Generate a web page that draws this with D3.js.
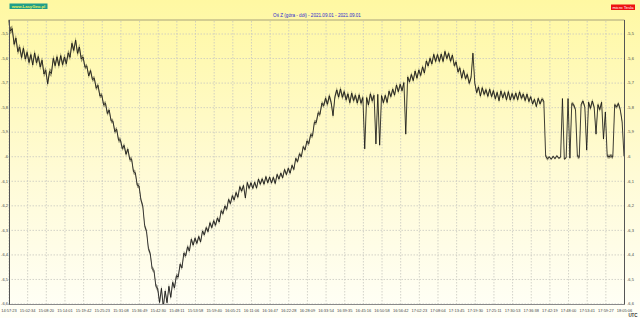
<!DOCTYPE html>
<html><head><meta charset="utf-8">
<script src="https://cdn.jsdelivr.net/npm/d3@7"></script>
<style>html,body{margin:0;padding:0;background:#fff;}svg{display:block;}</style>
</head><body>
<svg id="chart" width="640" height="318"></svg>
<script>
const titleText = "Oś Z (góra - dół) - 2021.09.01 - 2021.09.01";
const siteLabel = "www.LasyGeo.pl";
const unitLabel = "micro Tesla";
const tzLabel = "UTC";
const timeLabels = ["14:57:23","15:02:34","15:08:20","15:14:01","15:19:42","15:25:23","15:31:08","15:36:49","15:42:30","15:48:11","15:53:58","15:59:40","16:05:21","16:11:06","16:16:47","16:22:28","16:28:09","16:33:54","16:39:35","16:45:16","16:50:58","16:56:42","17:02:23","17:08:04","17:13:45","17:19:30","17:25:11","17:30:53","17:36:38","17:42:19","17:48:00","17:53:41","17:59:27","18:05:06"];
const yTicks = [-5.5,-5.6,-5.7,-5.8,-5.9,-6,-6.1,-6.2,-6.3,-6.4,-6.5,-6.6];
// samples: 10 per time-label interval
const values = [
-5.445,-5.49,-5.48,-5.544,-5.519,-5.574,-5.556,-5.598,-5.56,-5.604,
-5.577,-5.618,-5.586,-5.628,-5.579,-5.619,-5.594,-5.636,-5.609,-5.665,
-5.65,-5.705,-5.655,-5.663,-5.601,-5.631,-5.595,-5.631,-5.59,-5.627,
-5.596,-5.623,-5.579,-5.597,-5.54,-5.569,-5.527,-5.581,-5.555,-5.604,
-5.596,-5.638,-5.632,-5.673,-5.651,-5.688,-5.682,-5.723,-5.711,-5.755,
-5.75,-5.791,-5.784,-5.826,-5.812,-5.856,-5.857,-5.9,-5.89,-5.935,
-5.933,-5.969,-5.956,-5.992,-5.971,-6.013,-6.011,-6.063,-6.067,-6.118,
-6.121,-6.178,-6.203,-6.283,-6.306,-6.376,-6.397,-6.458,-6.466,-6.529,
-6.54,-6.596,-6.538,-6.614,-6.549,-6.597,-6.53,-6.575,-6.514,-6.536,
-6.487,-6.492,-6.44,-6.455,-6.395,-6.406,-6.369,-6.386,-6.338,-6.362,
-6.334,-6.355,-6.327,-6.349,-6.305,-6.32,-6.291,-6.307,-6.271,-6.291,
-6.263,-6.281,-6.252,-6.268,-6.222,-6.234,-6.203,-6.216,-6.176,-6.193,
-6.161,-6.178,-6.148,-6.167,-6.124,-6.142,-6.119,-6.17,-6.107,-6.131,
-6.108,-6.131,-6.106,-6.13,-6.093,-6.114,-6.092,-6.114,-6.083,-6.108,
-6.085,-6.109,-6.086,-6.111,-6.074,-6.093,-6.069,-6.088,-6.054,-6.075,
-6.049,-6.069,-6.037,-6.054,-6.009,-6.022,-5.99,-6.002,-5.961,-5.974,
-5.938,-5.949,-5.912,-5.918,-5.861,-5.863,-5.823,-5.83,-5.784,-5.794,
-5.764,-5.788,-5.754,-5.781,-5.835,-5.758,-5.73,-5.759,-5.726,-5.76,
-5.737,-5.77,-5.746,-5.782,-5.743,-5.773,-5.752,-5.783,-5.75,-5.784,
-5.761,-5.97,-5.761,-5.791,-5.746,-5.774,-5.752,-5.95,-5.748,-5.955,
-5.753,-5.782,-5.752,-5.781,-5.735,-5.757,-5.727,-5.751,-5.71,-5.737,
-5.707,-5.733,-5.7,-5.91,-5.677,-5.697,-5.667,-5.692,-5.653,-5.682,
-5.649,-5.671,-5.636,-5.661,-5.612,-5.632,-5.601,-5.624,-5.585,-5.614,
-5.586,-5.614,-5.584,-5.614,-5.573,-5.602,-5.581,-5.613,-5.588,-5.631,
-5.616,-5.657,-5.64,-5.682,-5.65,-5.684,-5.667,-5.703,-5.68,-5.58,
-5.702,-5.741,-5.718,-5.755,-5.721,-5.748,-5.729,-5.756,-5.727,-5.757,
-5.733,-5.766,-5.74,-5.774,-5.734,-5.762,-5.74,-5.77,-5.737,-5.771,
-5.745,-5.768,-5.743,-5.77,-5.738,-5.764,-5.747,-5.773,-5.747,-5.777,
-5.758,-5.787,-5.768,-5.798,-5.764,-5.787,-5.767,-5.775,-6.0,-6.01,
-6.003,-6.012,-6.0,-6.01,-5.998,-6.008,-6.004,-5.765,-6.012,-6.006,
-5.765,-6.008,-5.785,-5.79,-5.81,-6.0,-6.005,-5.79,-5.775,-5.8,
-5.975,-5.78,-5.805,-5.775,-5.8,-5.91,-5.79,-5.81,-5.78,-5.93,
-5.82,-6.0,-6.002,-5.998,-6.004,-5.79,-5.8,-5.785,-5.81,-5.86,
-6.0
];
// visible noise half-width of the trace, per time-label interval
const noiseBand = [0.014,0.014,0.014,0.014,0.01,0.01,0.01,0.01,0.012,0.01,0.009,0.009,0.009,0.008,0.008,0.008,0.01,0.012,0.012,0.012,0.01,0.01,0.01,0.01,0.01,0.01,0.01,0.01,0.008,0.004,0.008,0.01,0.008,0.004];

const W = 640, H = 318;
const svg = d3.select("#chart");
const defs = svg.append("defs");
const grad = defs.append("linearGradient").attr("id","bg").attr("x1",0).attr("y1",0).attr("x2",0).attr("y2",1);
grad.append("stop").attr("offset","0%").attr("stop-color","#fff8a2");
grad.append("stop").attr("offset","55%").attr("stop-color","#fffbd6");
grad.append("stop").attr("offset","100%").attr("stop-color","#fffff8");
svg.append("rect").attr("width",W).attr("height",H).attr("fill","url(#bg)");

const plot = {l:8.5, r:624.5, t:20, b:304.5};
const x = d3.scaleLinear().domain([0, (timeLabels.length-1)*10]).range([plot.l, 624]);
const y = d3.scaleLinear().domain([-5.5,-6.6]).range([33.5,303.5]);

defs.append("clipPath").attr("id","clip").append("rect")
  .attr("x",plot.l).attr("y",plot.t).attr("width",plot.r-plot.l).attr("height",plot.b-plot.t);

const fmt = d => String(d).replace(".", ",");
const font = "Liberation Sans, Arial, sans-serif";

const gy = svg.append("g").attr("transform",`translate(${plot.l},0)`)
  .call(d3.axisRight(y).tickValues(yTicks).tickSize(plot.r-plot.l).tickFormat(""));
gy.select(".domain").remove();
gy.selectAll("line").attr("stroke","#c8c8c0").attr("stroke-width",0.8).attr("stroke-dasharray","1.5,1.5");

const gx = svg.append("g").attr("transform",`translate(0,${plot.b})`)
  .call(d3.axisTop(x).tickValues(timeLabels.map((d,i)=>i*10)).tickSize(plot.b-plot.t).tickFormat(""));
gx.select(".domain").remove();
gx.selectAll("line").attr("stroke","#c8c8c0").attr("stroke-width",0.8).attr("stroke-dasharray","1.5,1.5");

const bandOf = i => noiseBand[Math.min(noiseBand.length-1, Math.floor(i/10))];
const area = d3.area().x((d,i)=>x(i)).y0((d,i)=>y(d - bandOf(i))).y1((d,i)=>y(d + bandOf(i)));
const gData = svg.append("g").attr("clip-path","url(#clip)");
gData.append("path").datum(values).attr("d",area).attr("fill","#2a2a20").attr("fill-opacity",0.45);
const line = d3.line().x((d,i)=>x(i)).y(d=>y(d));
gData.append("path").datum(values)
  .attr("d",line).attr("fill","none").attr("stroke","#111").attr("stroke-width",0.8);

svg.append("line").attr("x1",plot.l).attr("x2",plot.r).attr("y1",plot.t).attr("y2",plot.t).attr("stroke","#a8a27a").attr("stroke-width",1);
svg.append("line").attr("x1",plot.l).attr("x2",plot.r).attr("y1",plot.b).attr("y2",plot.b).attr("stroke","#8a8a8a").attr("stroke-width",1);
svg.append("line").attr("x1",9.5).attr("x2",9.5).attr("y1",plot.t).attr("y2",plot.b).attr("stroke","#555").attr("stroke-width",1);
svg.append("line").attr("x1",624.5).attr("x2",624.5).attr("y1",plot.t).attr("y2",plot.b).attr("stroke","#555").attr("stroke-width",1);

const yl = svg.append("g").attr("transform","translate(8,0)")
  .call(d3.axisLeft(y).tickValues(yTicks).tickSize(0).tickPadding(0).tickFormat(fmt));
yl.select(".domain").remove();
yl.selectAll("text").attr("font-family",font).attr("font-size",4).attr("fill","#444");
const yr = svg.append("g").attr("transform","translate(627,0)")
  .call(d3.axisRight(y).tickValues(yTicks).tickSize(0).tickPadding(0).tickFormat(fmt));
yr.select(".domain").remove();
yr.selectAll("text").attr("font-family",font).attr("font-size",4).attr("fill","#444");

const xl = svg.append("g").attr("transform","translate(0,309)")
  .call(d3.axisBottom(x).tickValues(timeLabels.map((d,i)=>i*10)).tickSize(0).tickPadding(0).tickFormat((d,i)=>timeLabels[i]));
xl.select(".domain").remove();
xl.selectAll("text").attr("font-family",font).attr("font-size",4).attr("fill","#444");

svg.append("text").attr("x",633).attr("y",316.5).attr("text-anchor","middle")
  .attr("font-family",font).attr("font-size",4.5).attr("font-weight","bold").attr("fill","#333").text(tzLabel);

svg.append("text").attr("x",317).attr("y",16.5).attr("text-anchor","middle")
  .attr("font-family",font).attr("font-size",4.6).attr("fill","#2b2bd0").text(titleText);

svg.append("rect").attr("x",9.5).attr("y",3.5).attr("width",38).attr("height",5.5).attr("fill","#1f9e8a");
svg.append("text").attr("x",28.5).attr("y",7.8).attr("text-anchor","middle")
  .attr("font-family",font).attr("font-size",4.2).attr("font-weight","bold").attr("fill","#e8f060").text(siteLabel);
svg.append("rect").attr("x",611).attr("y",4.5).attr("width",24).attr("height",5.5).attr("fill","#ee1111");
svg.append("text").attr("x",623).attr("y",8.8).attr("text-anchor","middle")
  .attr("font-family",font).attr("font-size",4.2).attr("fill","#fff").text(unitLabel);
</script>
</body></html>
